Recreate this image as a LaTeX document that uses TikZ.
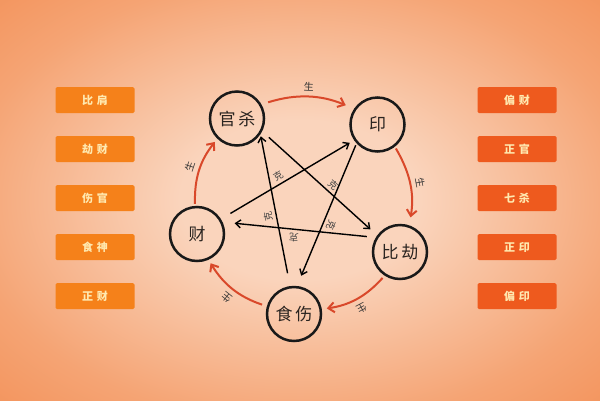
\documentclass[tikz,border=0pt]{standalone}
\usepackage{fontspec}
\newfontfamily\cjk{Noto Sans CJK SC}
\usetikzlibrary{arrows.meta}
\definecolor{bgin}{HTML}{FAD4BC}
\definecolor{bgmid}{HTML}{F5A474}
\definecolor{bgout}{HTML}{F18344}
\definecolor{bgcorner}{HTML}{EE7636}
\definecolor{lboxc}{HTML}{F5811A}
\definecolor{rboxc}{HTML}{EE5A1E}
\definecolor{boxtxt}{HTML}{FFE9B0}
\definecolor{genred}{HTML}{D9482A}
\definecolor{txtdark}{HTML}{2A2420}
\pgfdeclareradialshading{bgshade}{\pgfpoint{0bp}{0bp}}{color(0bp)=(bgin); color(10bp)=(bgin); color(28bp)=(bgmid); color(46bp)=(bgout); color(72bp)=(bgcorner)}
\begin{document}
\begin{tikzpicture}[x=1pt,y=1pt,
  elem/.style={circle,draw=black!90,line width=2.5pt,minimum size=54pt,inner sep=0pt,
    font=\cjk\fontsize{17}{17}\selectfont,text=txtdark},
  gen/.style={draw=genred,line width=2pt,-{Straight Barb[length=6pt,width=10pt]}},
  ctrl/.style={draw=black,line width=1.4pt,-{Straight Barb[length=5pt,width=8pt]}},
  glab/.style={font=\cjk\fontsize{10}{10}\selectfont,sloped,allow upside down,above=4pt,text=black!80,inner sep=1pt},
  klab/.style={font=\cjk\fontsize{9.5}{9.5}\selectfont,sloped,allow upside down,above=2pt,text=black!75,inner sep=1pt},
  lbox/.style={rectangle,rounded corners=1.5pt,minimum width=79pt,minimum height=26pt,inner sep=0pt,
    fill=lboxc,text=boxtxt,font=\cjk\bfseries\fontsize{11}{11}\selectfont},
  rbox/.style={lbox,fill=rboxc}]
\useasboundingbox (0,0) rectangle (600,-400);
\shade[shading=bgshade] (0,0) rectangle (600,-400);

% side boxes
\foreach \t [count=\i] in {比\kern4pt 肩,劫\kern4pt 财,伤\kern4pt 官,食\kern4pt 神,正\kern4pt 财}
  \node[lbox] (l\i) at (95,{-100-49*(\i-1)}) {\t};
\foreach \t [count=\i] in {偏\kern4pt 财,正\kern4pt 官,七\kern4pt 杀,正\kern4pt 印,偏\kern4pt 印}
  \node[rbox] (r\i) at (517,{-100-49*(\i-1)}) {\t};

% elements
\node[elem] (gs)  at (237,-118.5) {官\kern3pt 杀};
\node[elem] (yin) at (377.5,-124.5) {印};
\node[elem] (bj)  at (400,-252) {比\kern3pt 劫};
\node[elem] (ss)  at (294,-314) {食\kern3pt 伤};
\node[elem] (cai) at (197,-234) {财};

% generating cycle
\draw[gen,shorten <=7pt,shorten >=9pt] (gs.30) to[bend left=20] node[glab]{生} (yin.146);
\draw[gen,shorten <=2pt,shorten >=8pt] (yin.-52) to[bend left=20] node[glab]{生} (bj.71);
\draw[gen,shorten <=3pt,shorten >=5pt] (bj.237) to[bend left=20] node[glab]{生} (ss.10);
\draw[gen,shorten <=5pt,shorten >=4pt] (ss.164) to[bend left=20] node[glab]{生} (cai.-66);
\draw[gen,shorten <=2pt,shorten >=4pt] (cai.94) to[bend left=20] node[glab]{生} (gs.226);

% controlling star
\draw[ctrl,shorten <=9pt,shorten >=9pt] (gs.-27) -- node[klab,pos=0.57]{克} (bj.144);
\draw[ctrl,shorten <=9pt,shorten >=12pt] (bj.149) -- node[klab,pos=0.53]{克} (cai.25);
\draw[ctrl,shorten <=11pt,shorten >=5pt] (cai.32) -- node[klab,pos=0.46]{克} (yin.214);
\draw[ctrl,shorten <=2pt,shorten >=11pt] (yin.222) -- node[klab,pos=0.55]{克} (ss.84);
\draw[ctrl,shorten <=13pt,shorten >=2pt] (ss.98) -- node[klab,pos=0.47]{克} (gs.-34);
\end{tikzpicture}
\end{document}
